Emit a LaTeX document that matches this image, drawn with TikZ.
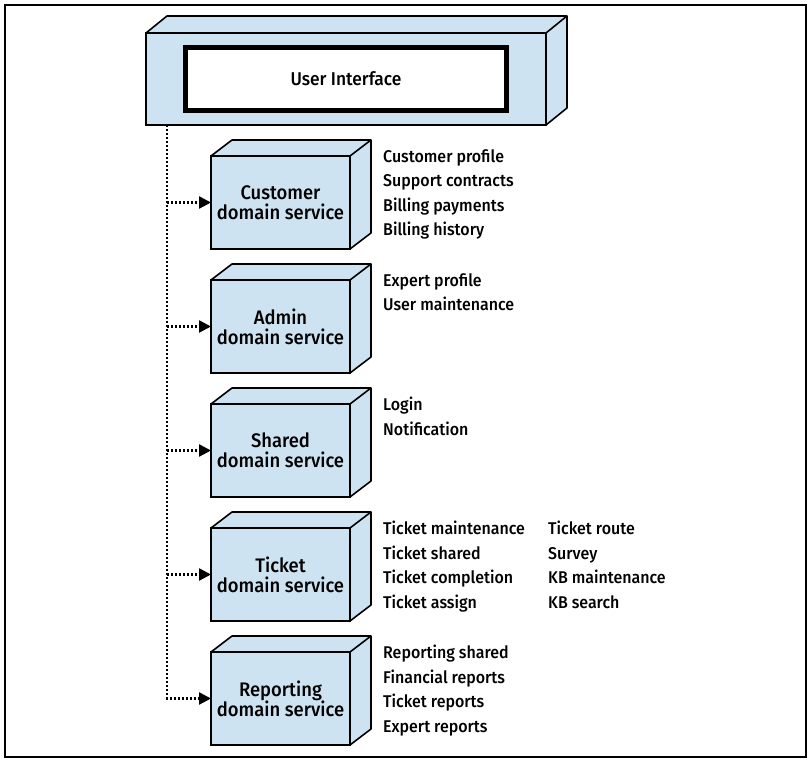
\documentclass[tikz,border=0pt]{standalone}
\usepackage{fontspec}
\setmainfont{Fira Sans}[UprightFont=* Medium, FakeStretch=0.94]
\usepackage{tikz}
\usetikzlibrary{arrows.meta, positioning, calc}
\definecolor{boxblue}{RGB}{206,227,241}

\begin{document}
\begin{tikzpicture}[
    x=1pt, y=1pt,
    box/.style={rectangle, draw, line width=1.6pt, fill=boxblue, inner sep=0pt, outer sep=0pt},
    ui/.style={box, minimum width=400pt, minimum height=92pt},
    uiinner/.style={rectangle, draw, line width=4.5pt, fill=white, minimum width=321pt, minimum height=63pt, font=\fontsize{18.5}{20}\selectfont},
    svc/.style={box, minimum width=139pt, minimum height=93pt, align=center, font=\fontsize{19.6}{20}\selectfont},
    face/.style={draw, line width=1.6pt, fill=boxblue, line join=round},
    items/.style={anchor=north west, align=left, inner sep=0pt, font=\fontsize{17}{24.5}\selectfont},
    link/.style={-{Triangle[length=12pt, width=12pt]}, line width=2.4pt, dash pattern=on 2pt off 2pt}
]

\useasboundingbox (0,0) rectangle (811,762);
\draw[line width=1.5pt] (5,5) rectangle (806,757);

% user interface
\node[ui] (ui) at (346,683) {};
\draw[face] (ui.north west) -- ++(21,17) -- ([shift={(21,17)}]ui.north east) -- ([shift={(21,17)}]ui.south east)
    -- (ui.south east) -- (ui.north east) -- cycle;
\draw[face] (ui.north east) -- ++(21,17);
\node[uiinner] (uiin) at (ui.center) {User Interface};

% domain services
\node[svc, below right=31pt and 65pt of ui.south west] (cust) {Customer\\domain service};
\node[svc, below=31pt of cust] (admin) {Admin\\domain service};
\node[svc, below=31pt of admin] (shared) {Shared\\domain service};
\node[svc, below=31pt of shared] (ticket) {Ticket\\domain service};
\node[svc, below=31pt of ticket] (report) {Reporting\\domain service};

\foreach \n in {cust, admin, shared, ticket, report} {
    \draw[face] (\n.north west) -- ++(21,16) -- ([shift={(21,16)}]\n.north east) -- ([shift={(21,16)}]\n.south east)
        -- (\n.south east) -- (\n.north east) -- cycle;
    \draw[face] (\n.north east) -- ++(21,16);
}

% modules
\node[items] (custitems) at ([shift={(33,7)}]cust.north east) {Customer profile\\Support contracts\\Billing payments\\Billing history};
\node[items] (adminitems) at ([shift={(33,7)}]admin.north east) {Expert profile\\User maintenance};
\node[items] (shareditems) at ([shift={(33,7)}]shared.north east) {Login\\Notification};
\node[items] (ticketitems) at ([shift={(33,7)}]ticket.north east) {Ticket maintenance\\Ticket shared\\Ticket completion\\Ticket assign};
\node[items] (ticketmore) at ([shift={(198,7)}]ticket.north east) {Ticket route\\Survey\\KB maintenance\\KB search};
\node[items] (reportitems) at ([shift={(33,7)}]report.north east) {Reporting shared\\Financial reports\\Ticket reports\\Expert reports};

% connections
\coordinate (trunk) at ([xshift=21pt]ui.south west);
\draw[link] (trunk) |- (report.west);
\draw[link] (trunk |- cust.west) -- (cust.west);
\draw[link] (trunk |- admin.west) -- (admin.west);
\draw[link] (trunk |- shared.west) -- (shared.west);
\draw[link] (trunk |- ticket.west) -- (ticket.west);

\end{tikzpicture}
\end{document}
